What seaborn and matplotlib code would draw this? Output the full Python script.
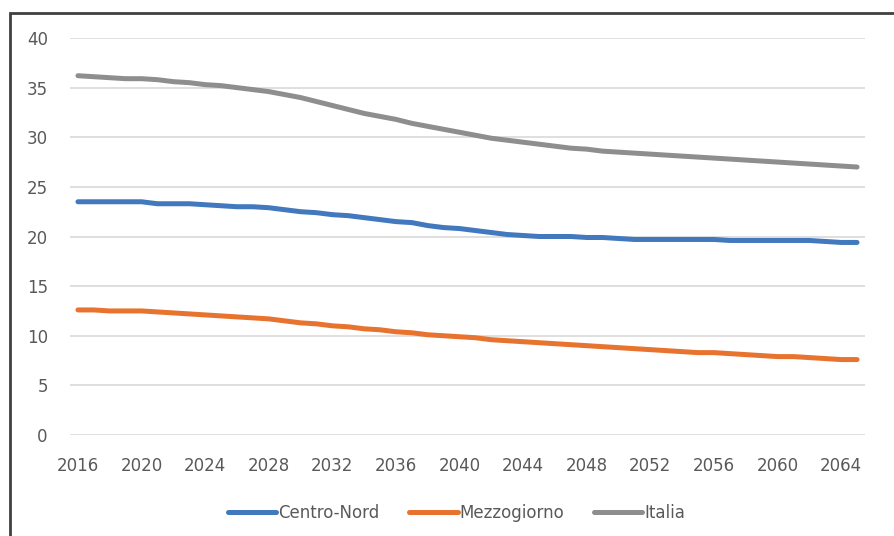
import pandas as pd
import matplotlib.pyplot as plt
import seaborn as sns
from matplotlib.patches import Rectangle

# DATA

years = list(range(2016, 2066))

centro_nord = [23.5, 23.5, 23.5, 23.5, 23.5, 23.3, 23.3, 23.3, 23.2, 23.1,
               23.0, 23.0, 22.9, 22.7, 22.5, 22.4, 22.2, 22.1, 21.9, 21.7,
               21.5, 21.4, 21.1, 20.9, 20.8, 20.6, 20.4, 20.2, 20.1, 20.0,
               20.0, 20.0, 19.9, 19.9, 19.8, 19.7, 19.7, 19.7, 19.7, 19.7,
               19.7, 19.6, 19.6, 19.6, 19.6, 19.6, 19.6, 19.5, 19.4, 19.4]

mezzogiorno = [12.6, 12.6, 12.5, 12.5, 12.5, 12.4, 12.3, 12.2, 12.1, 12.0,
               11.9, 11.8, 11.7, 11.5, 11.3, 11.2, 11.0, 10.9, 10.7, 10.6,
               10.4, 10.3, 10.1, 10.0, 9.9, 9.8, 9.6, 9.5, 9.4, 9.3,
               9.2, 9.1, 9.0, 8.9, 8.8, 8.7, 8.6, 8.5, 8.4, 8.3,
               8.3, 8.2, 8.1, 8.0, 7.9, 7.9, 7.8, 7.7, 7.6, 7.6]

italia = [36.2, 36.1, 36.0, 35.9, 35.9, 35.8, 35.6, 35.5, 35.3, 35.2,
          35.0, 34.8, 34.6, 34.3, 34.0, 33.6, 33.2, 32.8, 32.4, 32.1,
          31.8, 31.4, 31.1, 30.8, 30.5, 30.2, 29.9, 29.7, 29.5, 29.3,
          29.1, 28.9, 28.8, 28.6, 28.5, 28.4, 28.3, 28.2, 28.1, 28.0,
          27.9, 27.8, 27.7, 27.6, 27.5, 27.4, 27.3, 27.2, 27.1, 27.0]

series_names = ["Centro-Nord", "Mezzogiorno", "Italia"]
colors = ["#4178BE", "#E8732E", "#8E8E8E"]

df = pd.DataFrame({"anno": years, "Centro-Nord": centro_nord,
                   "Mezzogiorno": mezzogiorno, "Italia": italia})
long_df = df.melt(id_vars="anno", var_name="serie", value_name="valore")

# PLOT

sns.set_style("white")
plt.rcParams["font.family"] = ["DejaVu Sans"]

fig = plt.figure(figsize=(8.95, 5.36), dpi=100)
ax = fig.add_axes([70 / 895, 1 - 435 / 536, 795 / 895, 397 / 536])

sns.lineplot(data=long_df, x="anno", y="valore", hue="serie",
             hue_order=series_names, palette=colors, linewidth=3.6,
             ax=ax, legend=False)

ax.set_xlim(2015.5, 2065.5)
ax.set_ylim(0, 40)
ax.set_xticks(years[::4])
ax.set_yticks(range(0, 41, 5))
ax.set_xlabel("")
ax.set_ylabel("")
ax.grid(axis="y", color="#D9D9D9", linewidth=1.2)
ax.set_axisbelow(True)
for s in ax.spines.values():
    s.set_visible(False)
ax.tick_params(axis="both", length=0, labelsize=12, labelcolor="#595959")
ax.tick_params(axis="x", pad=16)
ax.tick_params(axis="y", pad=16)

handles = [plt.Line2D([], [], color=c, linewidth=3.6) for c in colors]
fig.legend(handles, series_names, loc="center", bbox_to_anchor=(0.51, 1 - 513 / 536),
           ncol=3, frameon=False, fontsize=12, labelcolor="#595959",
           handlelength=2.9, handletextpad=0.1, columnspacing=1.8)

# outer frame of the original chart
fig.patches.append(Rectangle((10 / 895, -0.1), 1.2, 1 - 13 / 536 + 0.1,
                             transform=fig.transFigure, fill=False,
                             edgecolor="#404040", linewidth=2))

fig.savefig("out.png", dpi=100)
plt.close()
